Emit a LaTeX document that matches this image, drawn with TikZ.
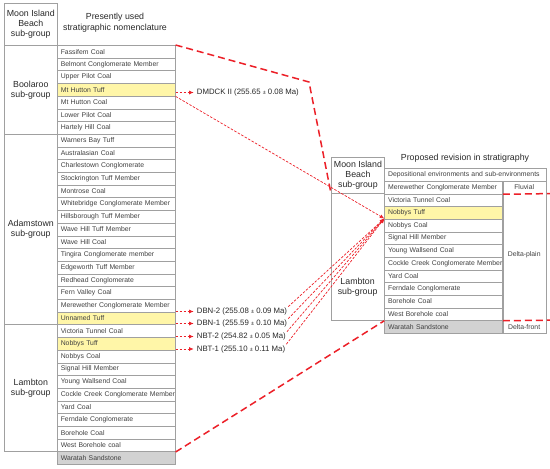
\documentclass[tikz,border=0pt]{standalone}
\usepackage{fontspec}
\setmainfont{Liberation Sans}
\usetikzlibrary{arrows.meta,calc}
\definecolor{mred}{RGB}{236,32,40}
\definecolor{gline}{RGB}{160,160,160}
\definecolor{gtext}{RGB}{64,64,64}
\definecolor{htext}{RGB}{40,40,40}
\definecolor{tuff}{RGB}{255,246,168}
\definecolor{sand}{RGB}{210,210,210}
\newcommand\pmsmall{{\fontsize{5.5}{6}\selectfont\raisebox{-0.3pt}{±}}}
\tikzset{
  rowbox/.style={draw=gline, line width=0.6pt, anchor=north west, text width=111pt,
    inner xsep=3.5pt, inner ysep=0pt, minimum height=12.7pt, align=left, text=gtext,
    font=\fontsize{6.85}{8}\selectfont},
  grpbox/.style={draw=gline, line width=0.6pt, anchor=north west, minimum width=53pt,
    align=center, text=htext, font=\fontsize{8.8}{10}\selectfont, inner sep=0pt},
  grplabel/.style={align=center, text=htext, font=\fontsize{8.8}{10}\selectfont, inner sep=0pt},
  titlelabel/.style={align=center, text=htext, font=\fontsize{8.8}{11}\selectfont, inner sep=0pt},
  envlabel/.style={text=gtext, font=\fontsize{6.85}{8}\selectfont, inner sep=0pt},
  ann/.style={anchor=west, inner sep=0pt, text=htext, font=\fontsize{7.8}{9}\selectfont},
  thinarrow/.style={draw=mred, line width=0.7pt, dash pattern=on 2.5pt off 1.5pt,
    -{Latex[length=4.5pt,width=4pt]}},
  thickdash/.style={draw=mred, line width=1.5pt, dash pattern=on 7pt off 4pt},
}
\begin{document}
\begin{tikzpicture}[x=1pt,y=-1pt]
\useasboundingbox (0,0) rectangle (550,469);

% ---------- left table ----------
\node[grpbox, minimum height=42pt] (lhead) at (4,3) {Moon Island\\Beach\\sub-group};
\node[grpbox, minimum height=88.9pt] (lbool) at (4,45) {Boolaroo\\sub-group};
\node[grpbox, minimum height=190.5pt] (ladam) at (4,133.9) {Adamstown\\sub-group};
\node[grpbox, minimum height=127pt] (llamb) at (4,324.4) {Lambton\\sub-group};
\node[titlelabel] (ltitle) at (115,22.5) {Presently used\\stratigraphic nomenclature};

\foreach \t/\f [count=\i] in {
  Fassifem Coal/white, Belmont Conglomerate Member/white, Upper Pilot Coal/white,
  Mt Hutton Tuff/tuff, Mt Hutton Coal/white, Lower Pilot Coal/white, Hartely Hill Coal/white,
  Warners Bay Tuff/white, Australasian Coal/white, Charlestown Conglomerate/white,
  Stockrington Tuff Member/white, Montrose Coal/white, Whitebridge Conglomerate Member/white,
  Hillsborough Tuff Member/white, Wave Hill Tuff Member/white, Wave Hill Coal/white,
  Tingira Conglomerate member/white, Edgeworth Tuff Member/white, Redhead Conglomerate/white,
  Fern Valley Coal/white, Merewether Conglomerate Member/white, Unnamed Tuff/tuff,
  Victoria Tunnel Coal/white, Nobbys Tuff/tuff, Nobbys Coal/white, Signal Hill Member/white,
  Young Wallsend Coal/white, Cockle Creek Conglomerate Member/white, Yard Coal/white,
  Ferndale Conglomerate/white, Borehole Coal/white, West Borehole coal/white,
  Waratah Sandstone/sand}
  {\node[rowbox, fill=\f] (L\i) at (57,{45+(\i-1)*12.7}) {\mbox{\t}};}

% ---------- right table ----------
\node[titlelabel] (rtitle) at (465,158) {Proposed revision in stratigraphy};
\node[grpbox, minimum width=53.3pt, minimum height=36pt] (rhead) at (331,157.3) {Moon Island\\Beach\\sub-group};
\node[grpbox, minimum width=53.3pt, minimum height=126.9pt] (rlamb) at (331,193.3) {};
\node[grplabel] (rlambl) at (357.6,287) {Lambton\\sub-group};
\node[rowbox, text width=154.4pt] (rdep) at (384.3,168.3) {\mbox{Depositional environments and sub-environments}};
\node[draw=gline, line width=0.6pt, anchor=north west, minimum width=43pt, minimum height=151.8pt, inner sep=0pt] (renv) at (502.7,181) {};

\foreach \t/\f [count=\i] in {
  Merewether Conglomerate Member/white, Victoria Tunnel Coal/white, Nobbys Tuff/tuff,
  Nobbys Coal/white, Signal Hill Member/white, Young Wallsend Coal/white,
  Cockle Creek Conglomerate Member/white, Yard Coal/white, Ferndale Conglomerate/white,
  Borehole Coal/white, West Borehole coal/white, Waratah Sandstone/sand}
  {\node[rowbox, minimum height=12.65pt, fill=\f] (R\i) at (384.3,{181+(\i-1)*12.65}) {\mbox{\t}};}

\node[envlabel] (fluv) at (524.2,187.3) {Fluvial};
\node[envlabel] (dplain) at (524.2,255) {Delta-plain};
\node[envlabel] (dfront) at (524.2,327) {Delta-front};

\coordinate (fluvR) at (550,193.6);
\coordinate (frontR) at (550,320.2);
\draw[thickdash] (R1.south east) -- (fluvR);
\draw[thickdash] (R11.south east) -- (frontR);

% ---------- dates ----------
\node[ann] (dmdck) at (196.7,92.5) {DMDCK II (255.65 \pmsmall{} 0.08 Ma)};
\node[ann] (dbn2) at (196.7,311.5) {DBN-2 (255.08 \pmsmall{} 0.09 Ma)};
\node[ann] (dbn1) at (196.7,323.5) {DBN-1 (255.59 \pmsmall{} 0.10 Ma)};
\node[ann] (nbt2) at (196.7,336.5) {NBT-2 (254.82 \pmsmall{} 0.05 Ma)};
\node[ann] (nbt1) at (196.7,349) {NBT-1 (255.10 \pmsmall{} 0.11 Ma)};

\draw[thinarrow] (L4.east |- dmdck.west) -- ([xshift=-3pt]dmdck.west);
\draw[thinarrow] (L22.east |- dbn2.west) -- ([xshift=-3pt]dbn2.west);
\draw[thinarrow] (L22.east |- dbn1.west) -- ([xshift=-3pt]dbn1.west);
\draw[thinarrow] (L24.east |- nbt2.west) -- ([xshift=-3pt]nbt2.west);
\draw[thinarrow] (L24.east |- nbt1.west) -- ([xshift=-3pt]nbt1.west);

\coordinate (tip) at ([yshift=1pt]R3.south west);
\draw[thinarrow] (L4.south east) -- (tip);
\draw[thinarrow] ([xshift=1pt,yshift=1pt]dbn2.north east) -- (tip);
\draw[thinarrow] ([xshift=1pt,yshift=1pt]dbn1.north east) -- (tip);
\draw[thinarrow] ([xshift=1pt,yshift=1pt]nbt2.north east) -- (tip);
\draw[thinarrow] ([xshift=1pt,yshift=1pt]nbt1.north east) -- (tip);

% ---------- correlation lines ----------
\coordinate (bend) at (309,82);
\draw[thickdash] (L1.north east) -- (bend) -- (rlamb.north west);
\draw[thickdash] (L32.south east) -- (R11.south west);
\end{tikzpicture}
\end{document}
